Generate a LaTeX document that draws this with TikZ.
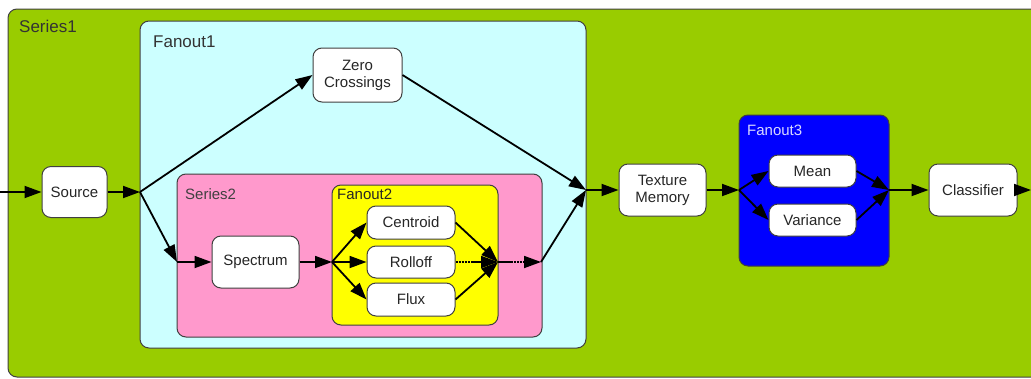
\documentclass[tikz,border=0pt]{standalone}
\usepackage{fontspec}
\setmainfont{Liberation Sans}
\usetikzlibrary{arrows.meta}
\definecolor{sgreen}{HTML}{99CC00}
\definecolor{fcyan}{HTML}{CCFFFF}
\definecolor{spink}{HTML}{FF99CC}
\definecolor{fyellow}{HTML}{FFFF00}
\definecolor{fblue}{HTML}{0000FF}
\definecolor{edgegray}{HTML}{404040}
\begin{document}
\begin{tikzpicture}[x=1pt,y=-1pt,
  box/.style={draw=edgegray,line width=1pt,rounded corners=9pt},
  proc/.style={draw=edgegray,line width=1pt,fill=white,rounded corners=9pt,
    inner sep=0pt,align=center,text=black!85,font=\fontsize{15}{17}\selectfont},
  grouplabel/.style={anchor=base west,inner sep=0pt,font=\fontsize{15}{17}\selectfont},
  biglabel/.style={anchor=base west,inner sep=0pt,font=\fontsize{17}{19}\selectfont},
  conn/.style={line width=1.8pt,-{Triangle[length=17pt,width=12pt]}},
  dotconn/.style={line width=1.8pt,dash pattern=on 2.5pt off 0.6pt,-{Triangle[length=17pt,width=12pt]}}
]
\useasboundingbox (0,0) rectangle (1031,378);
% containers
\draw[box,fill=sgreen] (8,9) rectangle (1045,377);
\node[biglabel,text=black!80] (lS1) at (19,32) {Series1};
\draw[box,fill=fcyan] (140,21) rectangle (586,348);
\node[biglabel,text=black!80] (lF1) at (153,47) {Fanout1};
\draw[box,fill=spink] (177,174) rectangle (542,337);
\node[grouplabel,text=black!75] (lS2) at (185,199) {Series2};
\draw[box,fill=fyellow] (332,185) rectangle (498,325);
\node[grouplabel,text=black!85] (lF2) at (337,199) {Fanout2};
\draw[box,fill=fblue] (739,115) rectangle (889,266);
\node[grouplabel,text=white!85!blue] (lF3) at (747,135) {Fanout3};

% process nodes
\node[proc,minimum width=65pt,minimum height=51pt] (src) at (74.5,192) {Source};
\node[proc,minimum width=89pt,minimum height=54pt] (zc) at (357.5,75) {Zero\\Crossings};
\node[proc,minimum width=87pt,minimum height=52pt] (spec) at (255.5,262) {Spectrum};
\node[proc,minimum width=88pt,minimum height=33pt] (cent) at (411,222.5) {Centroid};
\node[proc,minimum width=88pt,minimum height=32pt] (roll) at (411,262) {Rolloff};
\node[proc,minimum width=88pt,minimum height=33pt] (flux) at (411,299.5) {Flux};
\node[proc,minimum width=87pt,minimum height=52pt] (tm) at (662.5,190) {Texture\\Memory};
\node[proc,minimum width=87pt,minimum height=32pt] (mean) at (812.5,171) {Mean};
\node[proc,minimum width=87pt,minimum height=32pt] (var) at (812.5,220) {Variance};
\node[proc,minimum width=88pt,minimum height=52pt] (cls) at (973,190) {Classifier};

% junction points
\coordinate (in) at (0,192);
\coordinate (f1in) at (140,192);
\coordinate (f1out) at (586,190);
\coordinate (s2in) at (177,262);
\coordinate (f2in) at (332,262);
\coordinate (f2out) at (498,262);
\coordinate (s2out) at (541,262);
\coordinate (f3in) at (739,190);
\coordinate (f3out) at (889,190);
\coordinate (out) at (1031,190);

% connectors
\draw[conn] (in) -- (src.west);
\draw[conn] (src.east) -- (f1in);
\draw[conn] (f1in) -- (zc.west);
\draw[conn] (f1in) -- (s2in);
\draw[conn] (s2in) -- (spec.west);
\draw[conn] (spec.east) -- (f2in);
\draw[conn] (f2in) -- (cent.west);
\draw[conn] (f2in) -- (roll.west);
\draw[conn] (f2in) -- (flux.west);
\draw[conn] (cent.east) -- (f2out);
\draw[dotconn] (roll.east) -- (f2out);
\draw[conn] (flux.east) -- (f2out);
\draw[dotconn] (f2out) -- (s2out);
\draw[conn] (s2out) -- (f1out);
\draw[conn] (zc.east) -- (f1out);
\draw[conn] (f1out) -- (tm.west);
\draw[conn] (tm.east) -- (f3in);
\draw[conn] (f3in) -- (mean.west);
\draw[conn] (f3in) -- (var.west);
\draw[conn] (mean.east) -- (f3out);
\draw[conn] (var.east) -- (f3out);
\draw[conn] (f3out) -- (cls.west);
\draw[conn] (cls.east) -- (out);
\end{tikzpicture}
\end{document}
